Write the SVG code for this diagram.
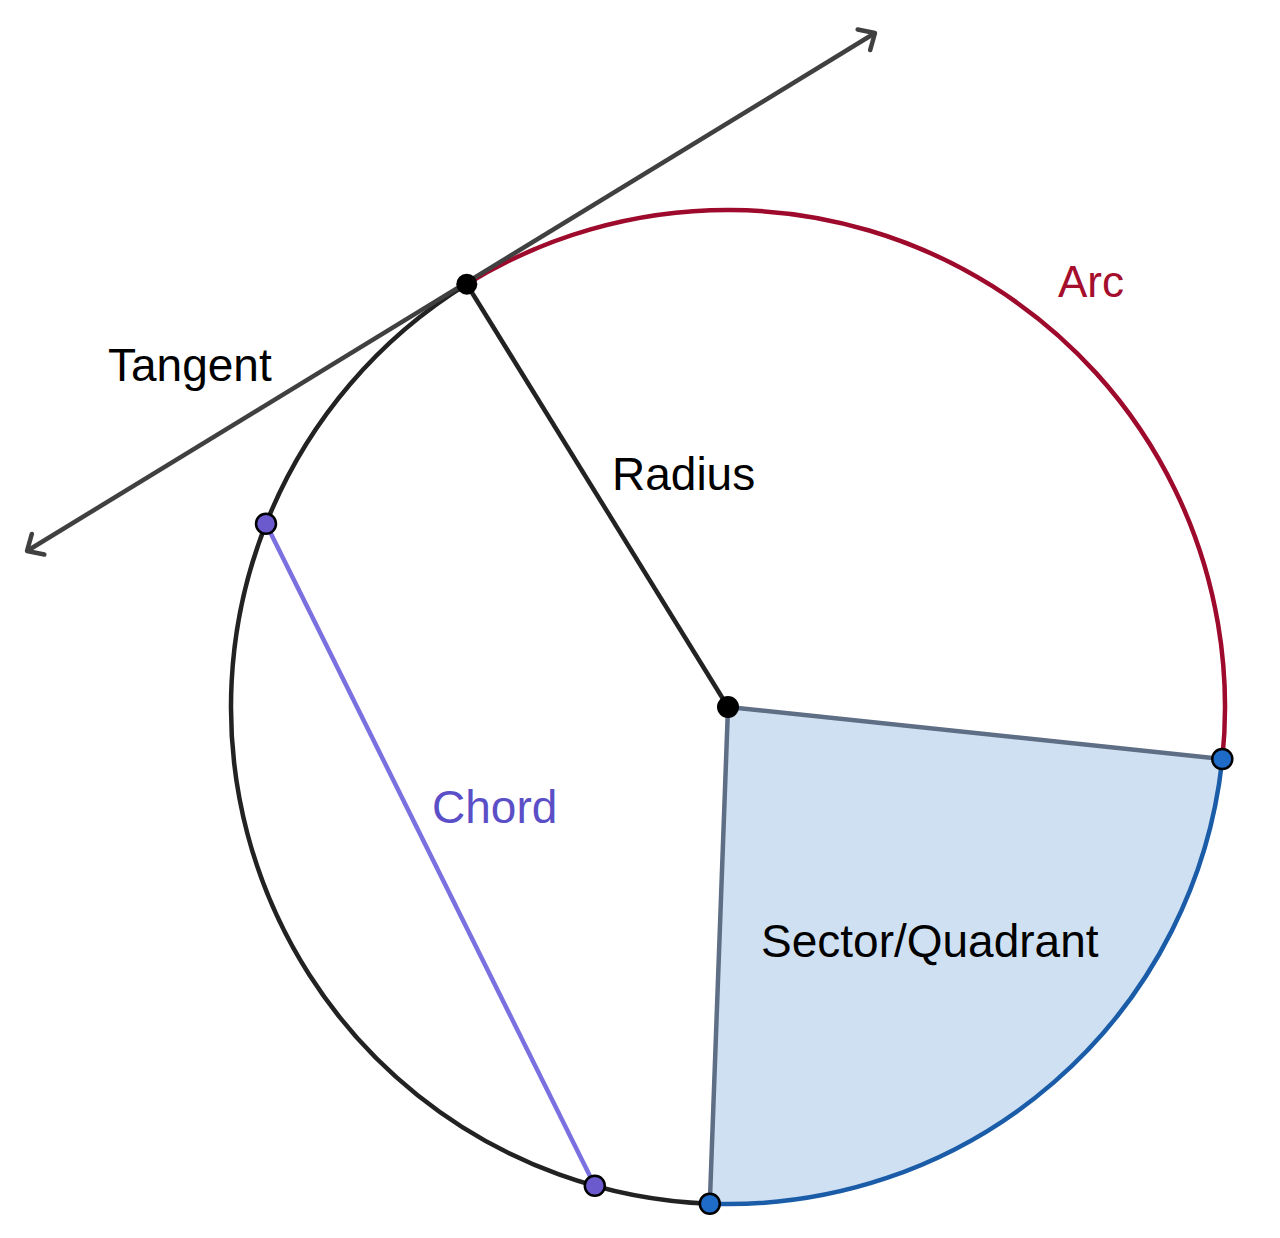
<svg xmlns="http://www.w3.org/2000/svg" width="1280" height="1238" viewBox="0 0 1280 1238">
<style>
.lbl{font-family:"Liberation Sans",Arial,Helvetica,sans-serif;font-size:46px;fill:#000}
.pt{stroke:#000;stroke-width:2.5}
</style>
<defs>
<marker id="arr" markerUnits="userSpaceOnUse" viewBox="-20 -20 40 40" markerWidth="40" markerHeight="40" refX="0" refY="0" orient="auto-start-reverse">
<path d="M -13 -12 L 0 0 L -13 12" fill="none" stroke="#404040" stroke-width="4.5" stroke-linecap="round" stroke-linejoin="round"/>
</marker>
</defs>
<rect width="1280" height="1238" fill="#fff"/>
<g id="sector">
<path d="M 728 707 L 1222.3 758.95 A 497 497 0 0 1 709.8 1203.7 Z" fill="#cfe0f2" stroke="none"/>
<path d="M 709.8 1203.7 L 728 707 L 1222.3 758.95" fill="none" stroke="#5e6e85" stroke-width="4.5"/>
</g>
<g id="circle">
<path id="arc-red" d="M 466.8 284.2 A 497 497 0 0 1 1222.3 758.95" fill="none" stroke="#9e0a2c" stroke-width="4.5"/>
<path id="arc-blue" d="M 1222.3 758.95 A 497 497 0 0 1 709.8 1203.7" fill="none" stroke="#1a5ca8" stroke-width="4.5"/>
<path id="arc-black" d="M 709.8 1203.7 A 497 497 0 0 1 466.8 284.2" fill="none" stroke="#222" stroke-width="4.5"/>
</g>
<g id="connectors">
<line id="tangent" x1="27" y1="551" x2="875" y2="33" stroke="#404040" stroke-width="4.5" marker-start="url(#arr)" marker-end="url(#arr)"/>
<line id="radius" x1="466.8" y1="284.2" x2="728" y2="707" stroke="#222" stroke-width="4.5"/>
<line id="chord" x1="266" y1="523.8" x2="594.8" y2="1185.8" stroke="#7b70e0" stroke-width="4.5"/>
</g>
<g id="points">
<circle cx="466.8" cy="284.2" r="10.5" fill="#000"/>
<circle cx="728" cy="707" r="11" fill="#000"/>
<circle class="pt" cx="1222.3" cy="758.95" r="10" fill="#1f6bc8"/>
<circle class="pt" cx="709.8" cy="1203.7" r="10" fill="#1f6bc8"/>
<circle class="pt" cx="266" cy="523.8" r="10" fill="#6a5acd"/>
<circle class="pt" cx="594.8" cy="1185.8" r="10" fill="#6a5acd"/>
</g>
<g id="labels">
<text id="t-arc" class="lbl" x="1058" y="297" style="fill:#a50e2d;font-size:44px">Arc</text>
<text id="t-tangent" class="lbl" x="108" y="381">Tangent</text>
<text id="t-radius" class="lbl" x="612" y="490">Radius</text>
<text id="t-chord" class="lbl" x="432" y="823" style="fill:#5b4fc8">Chord</text>
<text id="t-sector" class="lbl" x="761" y="957">Sector/Quadrant</text>
</g>
</svg>
